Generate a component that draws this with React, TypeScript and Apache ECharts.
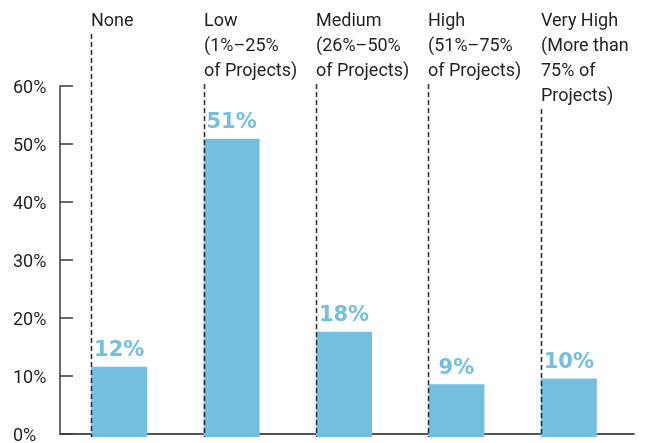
import React, { useEffect, useRef } from "react";
import * as echarts from "echarts";

const categories = [
  "None",
  "Low\n(1%–25%\nof Projects)",
  "Medium\n(26%–50%\nof Projects)",
  "High\n(51%–75%\nof Projects)",
  "Very High\n(More than\n75% of\nProjects)",
];
const values = [12, 51, 18, 9, 10];
const yMin = 0;
const yMax = 60;
const yInterval = 10;

const BAR_COLOR = "#72bfe0";
const TEXT_COLOR = "#231f20";
const BAR_WIDTH = 56;

export default function App() {
  const ref = useRef<HTMLDivElement>(null);
  useEffect(() => {
    if (!ref.current) return;
    const chart = echarts.init(ref.current, null, { renderer: "svg" });
    chart.setOption({
      animation: false,
      grid: [
        { left: 60, right: 18, top: 86, bottom: 6 },
        { left: 63, right: 27, top: 86, bottom: 6 },
      ],
      xAxis: [
        {
          gridIndex: 0,
          type: "category",
          data: categories,
          axisLine: { show: true, lineStyle: { color: "#555", width: 2 } },
          axisTick: { show: false },
          axisLabel: { show: false },
        },
        { gridIndex: 1, type: "category", data: categories, show: false },
      ],
      yAxis: [
        {
          gridIndex: 0,
          type: "value",
          min: yMin,
          max: yMax,
          interval: yInterval,
          axisLine: { show: true, lineStyle: { color: "#3a3a3a", width: 1.5 } },
          axisTick: { show: true, inside: true, length: 13, lineStyle: { color: "#3a3a3a", width: 1.5 } },
          axisLabel: {
            align: "left",
            margin: 47,
            formatter: "{value}%",
            fontFamily: "Roboto",
            fontSize: 18,
            color: TEXT_COLOR,
          },
          splitLine: { show: false },
        },
        { gridIndex: 1, type: "value", min: yMin, max: yMax, show: false },
      ],
      series: [
        {
          type: "bar",
          xAxisIndex: 1,
          yAxisIndex: 1,
          data: values,
          barWidth: BAR_WIDTH,
          itemStyle: { color: BAR_COLOR },
          label: {
            show: true,
            position: "top",
            distance: 7,
            formatter: "{c}%",
            fontFamily: "DejaVu Sans",
            fontWeight: "bold",
            fontSize: 21,
            color: BAR_COLOR,
          },
        },
      ],
    });

    const labelTop = 7;
    const lineHeight = 25;
    const baseY = chart.convertToPixel({ yAxisIndex: 1 }, 0) as number;
    const graphics: any[] = [];
    categories.forEach((cat, i) => {
      const cx = chart.convertToPixel({ xAxisIndex: 1 }, i) as number;
      const left = Math.round(cx - BAR_WIDTH / 2);
      const nLines = cat.split("\n").length;
      graphics.push({
        type: "text",
        x: left,
        y: labelTop,
        z: 20,
        style: {
          text: cat,
          fontFamily: "Roboto",
          fontSize: 18,
          lineHeight,
          fill: TEXT_COLOR,
          textAlign: "left",
          textVerticalAlign: "top",
        },
      });
      graphics.push({
        type: "line",
        z: 20,
        shape: { x1: left + 0.5, y1: labelTop + nLines * lineHeight + 2, x2: left + 0.5, y2: baseY },
        style: { stroke: "#2a2a2a", lineWidth: 1.5, lineDash: [5, 3] },
      });
    });
    chart.setOption({ graphic: graphics });

    return () => chart.dispose();
  }, []);
  return <div ref={ref} style={{ position: "fixed", left: 0, top: 0, width: 652, height: 443 }} />;
}
